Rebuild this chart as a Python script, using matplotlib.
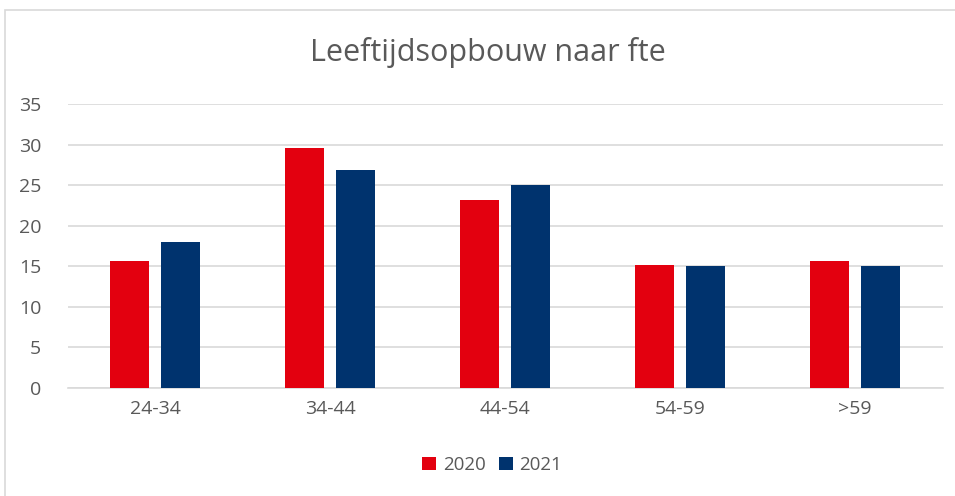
import numpy as np
import matplotlib.pyplot as plt
from matplotlib.patches import Rectangle

categories = ['24-34', '34-44', '44-54', '54-59', '>59']
values_2020 = [15.7, 29.6, 23.2, 15.1, 15.7]
values_2021 = [18.0, 26.9, 25.0, 15.0, 15.0]

plt.rcParams['font.family'] = ['Open Sans', 'DejaVu Sans']

fig = plt.figure(figsize=(9.55, 4.96), dpi=100)
fig.patches.append(Rectangle((5 / 955, -0.01), 1.02, 1 - 10 / 496 + 0.01,
                             transform=fig.transFigure, fill=False,
                             edgecolor='#d9d9d9', linewidth=1.2))
ax = fig.add_axes([67.5 / 955, 1 - 388 / 496, 875 / 955, (388 - 104) / 496])

x = np.arange(len(categories))
w = 0.223
ax.bar(x - 0.143, values_2020, w, color='#e3000f', label='2020', zorder=3)
ax.bar(x + 0.143, values_2021, w, color='#00336e', label='2021', zorder=3)

ax.set_xlim(-0.5, 4.5)
ax.set_ylim(0, 35)
ax.set_yticks(range(0, 36, 5))
ax.set_xticks(x)
ax.set_xticklabels(categories)
ax.grid(axis='y', color='#d9d9d9', linewidth=1.2, zorder=0)
for s in ['top', 'right', 'left']:
    ax.spines[s].set_visible(False)
ax.spines['bottom'].set_color('#d9d9d9')
ax.spines['bottom'].set_linewidth(1.2)
ax.tick_params(length=0, labelsize=14, colors='#595959', pad=9)
ax.tick_params(axis='y', pad=19)

fig.text(488 / 955, 1 - 52 / 496, 'Leeftijdsopbouw naar fte', ha='center', va='center',
         fontsize=22, color='#595959')
fig.legend(loc='center', bbox_to_anchor=(492 / 955, 1 - 465 / 496), ncol=2, frameon=False,
           fontsize=13.5, labelcolor='#595959', handlelength=0.75, handleheight=0.75,
           handletextpad=0.35, columnspacing=0.7)

fig.savefig('out.png', dpi=100)
